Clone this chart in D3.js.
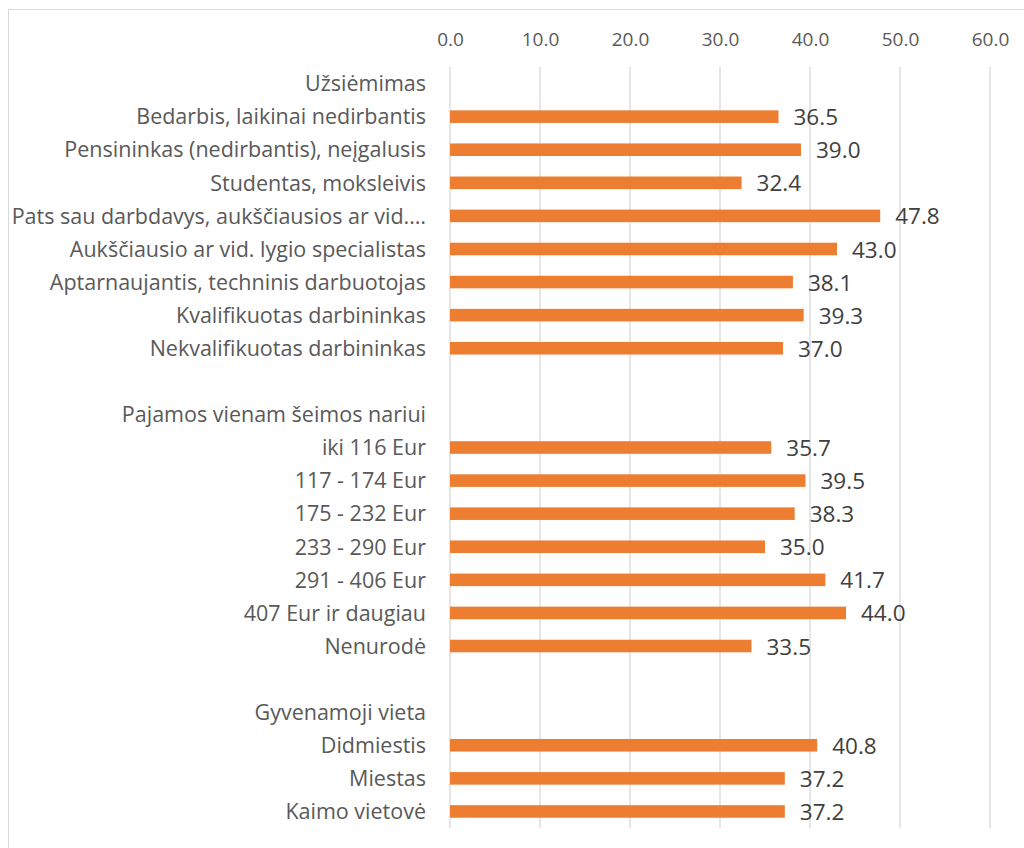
<!DOCTYPE html>
<html>
<head>
<meta charset="utf-8">
<script src="https://cdn.jsdelivr.net/npm/d3@7.9.0/dist/d3.min.js"></script>
<style>
  body { margin: 0; background: #fff; }
  svg { display: block; font-family: "Open Sans", "Noto Sans", sans-serif; }
</style>
</head>
<body>
<svg id="chart" width="1024" height="848"></svg>
<script>
// row labels (group headers and blank spacer rows included)
const categories = [
  "Užsiėmimas",
  "Bedarbis, laikinai nedirbantis",
  "Pensininkas (nedirbantis), neįgalusis",
  "Studentas, moksleivis",
  "Pats sau darbdavys, aukščiausios ar vid.…",
  "Aukščiausio ar vid. lygio specialistas",
  "Aptarnaujantis, techninis darbuotojas",
  "Kvalifikuotas darbininkas",
  "Nekvalifikuotas darbininkas",
  "",
  "Pajamos vienam šeimos nariui",
  "iki 116 Eur",
  "117 - 174 Eur",
  "175 - 232 Eur",
  "233 - 290 Eur",
  "291 - 406 Eur",
  "407 Eur ir daugiau",
  "Nenurodė",
  "",
  "Gyvenamoji vieta",
  "Didmiestis",
  "Miestas",
  "Kaimo vietovė"
];
const values = [
  null, 36.5, 39.0, 32.4, 47.8, 43.0, 38.1, 39.3, 37.0,
  null, null, 35.7, 39.5, 38.3, 35.0, 41.7, 44.0, 33.5,
  null, null, 40.8, 37.2, 37.2
];
const tickValues = [0, 10, 20, 30, 40, 50, 60];

const svg = d3.select('#chart');

// chart area border
svg.append('rect')
  .attr('x', 8.5).attr('y', 9.5)
  .attr('width', 1030).attr('height', 860)
  .attr('fill', 'none').attr('stroke', '#d9d9d9');

const x = d3.scaleLinear().domain([0, 60]).range([450, 990]);
const y = d3.scaleBand()
  .domain(d3.range(categories.length))
  .range([67, 828])
  .paddingInner(0.62).paddingOuter(0.31);

// gridlines
svg.append('g').selectAll('line')
  .data(tickValues)
  .join('line')
  .attr('x1', d => x(d)).attr('x2', d => x(d))
  .attr('y1', 67).attr('y2', 828)
  .attr('stroke', '#d9d9d9').attr('stroke-width', 1.3);

// top axis labels
const xAxis = d3.axisTop(x).tickValues(tickValues).tickFormat(d3.format('.1f')).tickSize(0).tickPadding(0);
svg.append('g')
  .attr('transform', 'translate(0,46)')
  .call(xAxis)
  .call(g => g.select('.domain').remove())
  .call(g => g.selectAll('text')
    .attr('dy', 0)
    .attr('fill', '#595959')
    .attr('font-size', 19)
    .attr('font-family', '"Open Sans", sans-serif'));

// category labels
svg.append('g').selectAll('text')
  .data(categories)
  .join('text')
  .attr('x', 426)
  .attr('y', (d, i) => y(i) + y.bandwidth() / 2)
  .attr('dy', '0.36em')
  .attr('text-anchor', 'end')
  .attr('fill', '#595959')
  .attr('font-size', 21.5)
  .text(d => d);

const rows = values.map((v, i) => ({ i, v })).filter(d => d.v !== null);

// bars
svg.append('g').selectAll('rect')
  .data(rows)
  .join('rect')
  .attr('x', x(0))
  .attr('y', d => y(d.i))
  .attr('width', d => x(d.v) - x(0))
  .attr('height', y.bandwidth())
  .attr('fill', '#ed7d31');

// value labels
svg.append('g').selectAll('text')
  .data(rows)
  .join('text')
  .attr('x', d => x(d.v) + 15)
  .attr('y', d => y(d.i) + y.bandwidth() / 2)
  .attr('dy', '0.38em')
  .attr('fill', '#404040')
  .attr('font-size', 22.5)
  .text(d => d3.format('.1f')(d.v));
</script>
</body>
</html>
